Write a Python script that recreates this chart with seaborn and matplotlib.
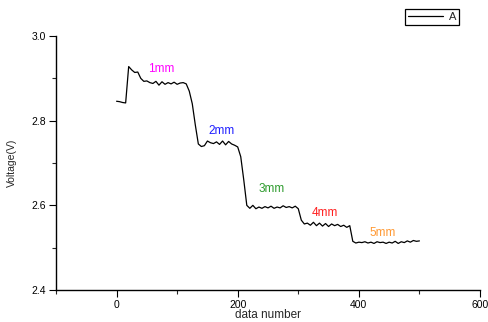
import matplotlib
matplotlib.use("Agg")
import matplotlib.pyplot as plt
import seaborn as sns
import pandas as pd
from matplotlib.ticker import MultipleLocator

data_number = list(range(0, 505, 5))
voltage = [
    2.846, 2.845, 2.843, 2.842, 2.928, 2.920, 2.914, 2.915, 2.900, 2.893,
    2.894, 2.890, 2.888, 2.893, 2.884, 2.892, 2.886, 2.890, 2.887, 2.891,
    2.886, 2.889, 2.890, 2.887, 2.870, 2.840, 2.790, 2.745, 2.739, 2.741,
    2.752, 2.748, 2.746, 2.750, 2.744, 2.752, 2.743, 2.751, 2.745, 2.742,
    2.738, 2.715, 2.660, 2.600, 2.593, 2.600, 2.592, 2.596, 2.593, 2.597,
    2.594, 2.598, 2.593, 2.596, 2.594, 2.599, 2.595, 2.597, 2.594, 2.598,
    2.592, 2.565, 2.556, 2.558, 2.553, 2.560, 2.552, 2.558, 2.551, 2.557,
    2.550, 2.556, 2.552, 2.555, 2.550, 2.553, 2.548, 2.552, 2.515, 2.511,
    2.513, 2.512, 2.514, 2.511, 2.513, 2.510, 2.514, 2.512, 2.513, 2.510,
    2.513, 2.511, 2.515, 2.510, 2.514, 2.512, 2.516, 2.513, 2.517, 2.515,
    2.516,
]

labels = ["1mm", "2mm", "3mm", "4mm", "5mm"]
label_x = [73, 173, 256, 344, 440]
label_y = [2.923, 2.776, 2.638, 2.583, 2.535]
label_colors = ["#FF00FF", "#1F1FFF", "#2E9B2E", "#FF1F1F", "#FF9933"]

sns.set_style("ticks")
plt.rcParams['font.family'] = ['Liberation Sans', 'DejaVu Sans']

fig = plt.figure(figsize=(4.89, 3.22), dpi=100)
ax = fig.add_axes([0.1145, 0.0994, 0.8671, 0.7886])

df = pd.DataFrame({"data number": data_number, "Voltage(V)": voltage})
sns.lineplot(data=df, x="data number", y="Voltage(V)", ax=ax, color="black",
             linewidth=0.9, label="A")

for t, lx, ly, c in zip(labels, label_x, label_y, label_colors):
    ax.text(lx, ly, t, color=c, fontsize=8.5, ha="center", va="center")

ax.set_xlim(-100, 600)
ax.set_ylim(2.4, 3.0)
ax.xaxis.set_major_locator(MultipleLocator(200))
ax.xaxis.set_minor_locator(MultipleLocator(100))
ax.yaxis.set_major_locator(MultipleLocator(0.2))
ax.yaxis.set_minor_locator(MultipleLocator(0.1))
ax.yaxis.set_major_formatter(matplotlib.ticker.FormatStrFormatter('%.1f'))

for s in ["top", "right"]:
    ax.spines[s].set_visible(False)
for s in ["left", "bottom"]:
    ax.spines[s].set_linewidth(1.0)
    ax.spines[s].set_color("black")

ax.tick_params(which="major", direction="out", length=5, width=0.8,
               labelsize=7.5, colors="black", pad=2)
ax.tick_params(which="minor", direction="out", length=3, width=0.8)

ax.set_xlabel("data number", fontsize=8.5)
ax.set_ylabel("Voltage(V)", fontsize=7.5)
ax.xaxis.set_label_coords(0.5, -0.098)
ax.xaxis.label.set_va("center")
ax.yaxis.set_label_coords(-0.104, 0.5)
ax.yaxis.label.set_va("center")

leg = ax.legend(loc="upper right", bbox_to_anchor=(459 / 489, 1 - 9 / 322),
                bbox_transform=fig.transFigure, frameon=True, fancybox=False,
                edgecolor="black", framealpha=1, fontsize=8, handlelength=3.2,
                borderpad=0.25, borderaxespad=0, handletextpad=0.5)
leg.get_frame().set_linewidth(0.9)

fig.savefig("out.png", dpi=100)
